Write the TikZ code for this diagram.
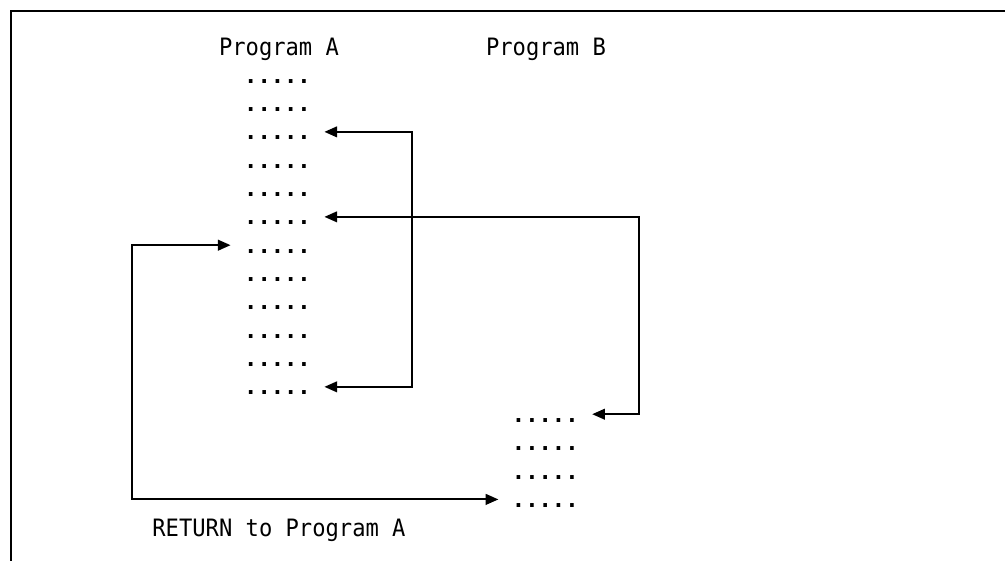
\documentclass[tikz,border=0pt]{standalone}
\usepackage{fontspec}
\setmonofont{DejaVu Sans Mono}
\usetikzlibrary{arrows.meta,positioning,calc}

\begin{document}
\begin{tikzpicture}[
  x=0.75pt, y=-0.75pt,
  lbl/.style={font=\ttfamily\fontsize{16.6}{20}\selectfont, anchor=base, inner sep=0pt,
              yscale=1.08},
  dotrow/.style={font=\ttfamily\bfseries\fontsize{16.6}{20}\selectfont, anchor=base,
                 inner xsep=10pt, inner ysep=0pt, text height=12pt, text depth=0pt},
  link/.style={<->, line width=1.4pt},
  >={Triangle[length=9.5pt,width=8pt]}
]
  \useasboundingbox (0,0) rectangle (1005,561);
  \draw[line width=1.5pt] (1005,11) -- (11,11) -- (11,561);

  \node[lbl] (pa) at (279,55.5) {Program A};
  \node[lbl] (pb) at (546,55.5) {Program B};

  % the two programs
  \foreach \i in {1,...,12}
    \node[dotrow] (a\i) at (277.5,{83.2+28.33*(\i-1)}) {.....};
  \foreach \i in {1,...,4}
    \node[dotrow] (b\i) at (545.3,{422.2+28.4*(\i-1)}) {.....};

  \node[lbl] (ret) at (279,536) {RETURN to Program A};

  \coordinate (jmp1) at (412,250);
  \coordinate (jmp2) at (639,300);
  \coordinate (jmp3) at (131.7,400);

  \draw[link] (a3.east) -| (jmp1) |- (a12.east);
  \draw[link] (a6.east) -| (jmp2) |- (b1.east);
  \draw[link] (a7.west) -| (jmp3) |- (b4.west);
\end{tikzpicture}
\end{document}
